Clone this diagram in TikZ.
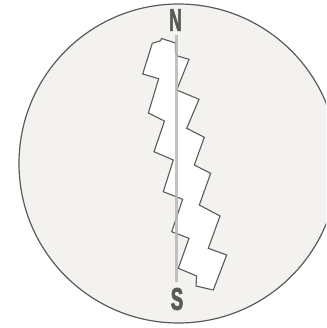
\documentclass[tikz,border=0pt]{standalone}
\usepackage{fontspec}
\setmainfont{Liberation Sans}
\newfontfamily\polefont[FakeBold=3]{Liberation Sans}

\definecolor{dialfill}{HTML}{F3F2EF}
\definecolor{inkgray}{HTML}{5A5A5A}
\definecolor{needlegray}{HTML}{B8B8B8}

\begin{document}
\begin{tikzpicture}[x=1pt, y=-1pt,
    pole/.style={font=\polefont\bfseries\fontsize{31}{31}\selectfont, text=inkgray, inner sep=0pt}]

    % ==========================================
    % 1. COORDINATES FOR GEOMETRY
    % ==========================================
    \useasboundingbox (0,0) rectangle (326,328);
    \coordinate (Centre) at (178.5,163.5);
    \coordinate (NeedleTop) at (176.7,35);
    \coordinate (NeedleBot) at (176.7,282);

    % ==========================================
    % 2. DIAL (clipped to the frame)
    % ==========================================
    \begin{scope}
        \clip (0,0) rectangle (326,328);
        \draw[inkgray, line width=1.2pt, fill=dialfill] (Centre) circle (159.5);
    \end{scope}

    % ==========================================
    % 3. STAIRCASE STRIP
    % ==========================================
    \draw[inkgray, line width=1.1pt, fill=white, line join=miter]
        (152.3,43.3) -- (160.5,40.8) -- (161.5,38.5) -- (175.5,43)
        -- (175.5,52) -- (177.5,56) -- (189,59.3)
        -- (176.7,90) -- (199,99.3)
        -- (186.7,128.3) -- (204.3,137.3)
        -- (194.3,165) -- (210.7,173.3)
        -- (199.3,205) -- (220,216)
        -- (208.3,248.3) -- (226.7,255)
        -- (213.3,290) -- (196,286) -- (196.7,276) -- (178.3,268.3)
        -- (189,238.3) -- (171.7,231.7)
        -- (182.7,199.3) -- (163.3,191.7)
        -- (173.3,160) -- (154,151.7)
        -- (164.5,121) -- (148.3,113)
        -- (158.7,78.7) -- (142.7,74)
        -- cycle;

    % ==========================================
    % 4. NEEDLE & POLES
    % ==========================================
    \draw[needlegray, line width=2.6pt, opacity=0.85] (NeedleTop) -- (NeedleBot);

    \node[pole] (north) at (175.5,20) {\scalebox{0.55}[1]{N}};
    \node[pole] (south) at (177,299) {\scalebox{0.6}[1]{S}};

\end{tikzpicture}
\end{document}
